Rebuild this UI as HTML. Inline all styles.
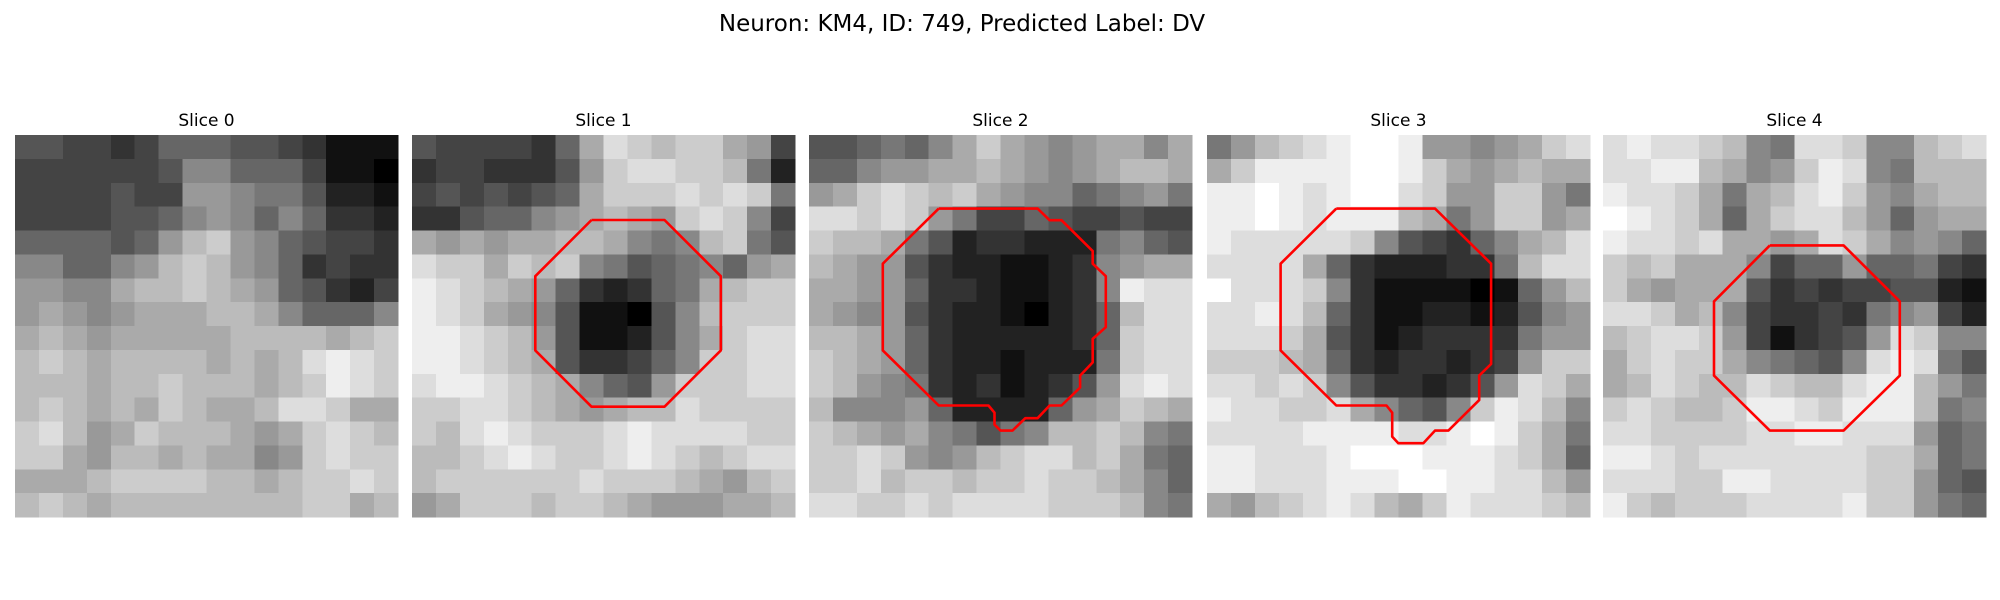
<!DOCTYPE html>
<html><head><meta charset="utf-8"><style>
html,body{margin:0;padding:0;background:#fff;}
svg{display:block;}
text{font-family:"DejaVu Sans","Liberation Sans",sans-serif;fill:#000;}
</style></head><body>
<svg id="fig" width="2000" height="600" viewBox="0 0 2000 600" xmlns="http://www.w3.org/2000/svg">
<text x="962" y="31" font-size="23" text-anchor="middle">Neuron: KM4, ID: 749, Predicted Label: DV</text>
</svg>
<script>
// image data per slice: 16 rows of hex intensities (0=black, f=white)
const slice0 = ["5544346665543111","4444445886664110","4444544998775221","4444556898686332","6666569bc9865443","886689bcb9863433","9988abbcba965324","9a989aaabba86668","aba9aaaaabbbbabc","bcbabbbbababdedc","bbbabbcbbbabcedc","bcbabacbaabddcaa","cdb9acbbba9acdcb","cca9bbabaa89cdcc","aaabccccbbabccdc","bcbabbbbbbbbccab"];
const slice1 = ["5444436adcbcca94","34433359cddccb72","4545456acccdcdc7","3356689aba9cdc84","a9a9aabba878bc75","dccacbc87567869a","edcba96323 67abc","edca985110 58bcc","eedcb95112 58acd","eedcba5334 68ccd","deedcba8659cccdd","ccddcba9abbdcccc","cbdedcccdeddddcc","bbcdedccdedcbcdd","bccccccdcccba9bc","9acccbccba999aab"];
const slice2 = ["556768aca989aa8a","66899aaba989abba","9acdcbca98867897","ddcdc97446544544","cbba752332227865","ba995322112389aa","aa99633211238edd","a98953221023 6bd","bba963222223 6cd","cba9632212227cdd","cb98732312359ded","b88896222269acba","cba9a87578bbcb87","ccdc989bcddbca76","ccdbccbccdccba86","ddccdcddddcccb87"];
const slice3 = ["79bcdeffe9989acd","aceeeeffeca9abaa","eefedeffdc99cc97","eefedeeeba79cc9a","edddddc854368abd","dddda63222337bdd","fdddc831111016 9b","ddedb63112212589","dddca53123333 79","cccba63233234 9c","ddcdc85332359dca","eddccda8658cedb8","ddddeeeeddefeca7","eedddefffeeedca6","eedddeeeffeeddb9","a9bcdedbaceddd cb"];
const slice4 = ["deddcb87ddc88bcd","ddeeba89ced87bbb","eddca7abdec98abb","fedca6acddb969aa","eddcdaa9adca8986","cbcaaa8466966743","ca9aaa5343445521","ddcab84334378942","bcddc94134 59dc8","acdcca87658ded75","abdcbbdcbbdeeb97","cdcbbceedceeeb78","ddccccddeeddd967","eedcdddddddcca67","dddcceeddddcc965","ecbcccddddecc976"];
const slices = [slice0, slice1, slice2, slice3, slice4];
const sliceLabels = ["Slice 0","Slice 1","Slice 2","Slice 3","Slice 4"];
// contour vertices in image-pixel units (32x32 grid)
const contour1 = [[15.0,7.1],[21.1,7.1],[25.8,11.8],[25.8,18.0],[21.1,22.7],[15.0,22.7],[10.3,18.0],[10.3,11.8],[15.0,7.1]];
const contour2 = [[10.84,6.15],[19.1,6.15],[20.1,7.12],[21.1,7.12],[23.7,9.7],[23.7,10.75],[24.8,11.8],[24.8,16.06],[23.7,17.04],[23.7,19.0],[22.65,20.1],[22.65,21.1],[21.1,22.6],[20.1,22.6],[19.1,23.66],[18.07,23.66],[17.0,24.7],[16.0,24.7],[15.5,24.2],[15.5,23.2],[15.0,22.6],[10.84,22.6],[6.17,18.0],[6.17,10.75],[10.84,6.15]];
const contour3 = [[10.8,6.15],[19.05,6.15],[23.74,10.75],[23.74,19.13],[22.74,20.1],[22.74,22.15],[20.17,24.7],[19.05,24.7],[18.07,25.75],[15.98,25.75],[15.47,25.2],[15.47,23.2],[15.0,22.6],[10.8,22.6],[6.15,18.0],[6.15,10.75],[10.8,6.15]];
const contour4 = [[13.94,9.22],[20.1,9.22],[24.8,13.9],[24.8,20.1],[20.1,24.7],[13.94,24.7],[9.27,20.1],[9.27,13.9],[13.94,9.22]];
const contours = [null, contour1, contour2, contour3, contour4];

const NS = "http://www.w3.org/2000/svg";
const svg = document.getElementById("fig");
const panelX = [15, 412, 809, 1207, 1603];
const panelY = 135, panelW = 383, panelH = 382;
function hexVal(ch){ const v = parseInt(ch,16); return isNaN(v) ? 10 : v; }
slices.forEach((rows, p) => {
  const g = document.createElementNS(NS, "g");
  
  
  svg.appendChild(g);
  const t = document.createElementNS(NS, "text");
  
  
  t.setAttribute("x", panelX[p] + panelW/2);
  t.setAttribute("y", 126);
  t.setAttribute("font-size", "17");
  t.setAttribute("text-anchor", "middle");
  t.textContent = sliceLabels[p];
  g.appendChild(t);
  const n = rows.length;
  const cw = panelW / 16, ch = panelH / n;
  rows.forEach((row, r) => {
    const chars = row.replace(/\s/g, "").slice(0, 16).split("");
    while (chars.length < 16) chars.push(chars[chars.length-1] || "a");
    chars.forEach((c, k) => {
      const v = Math.round(hexVal(c) * 255 / 15);
      const rect = document.createElementNS(NS, "rect");
      
      
      rect.setAttribute("x", (panelX[p] + k*cw).toFixed(2));
      rect.setAttribute("y", (panelY + r*ch).toFixed(2));
      rect.setAttribute("width", (cw+0.6).toFixed(2));
      rect.setAttribute("height", (ch+0.6).toFixed(2));
      rect.setAttribute("fill", `rgb(${v},${v},${v})`);
      rect.setAttribute("shape-rendering", "crispEdges");
      g.appendChild(rect);
    });
  });
  const cont = contours[p];
  if (cont) {
    const s = panelW / 32;
    const pl = document.createElementNS(NS, "polyline");
    
    
    pl.setAttribute("points", cont.map(q => (panelX[p] + q[0]*s).toFixed(1) + "," + (panelY + q[1]*s).toFixed(1)).join(" "));
    pl.setAttribute("fill", "none");
    pl.setAttribute("stroke", "#ff0000");
    pl.setAttribute("stroke-width", "2.6");
    pl.setAttribute("stroke-linejoin", "round");
    g.appendChild(pl);
  }
});
</script>
</body></html>
